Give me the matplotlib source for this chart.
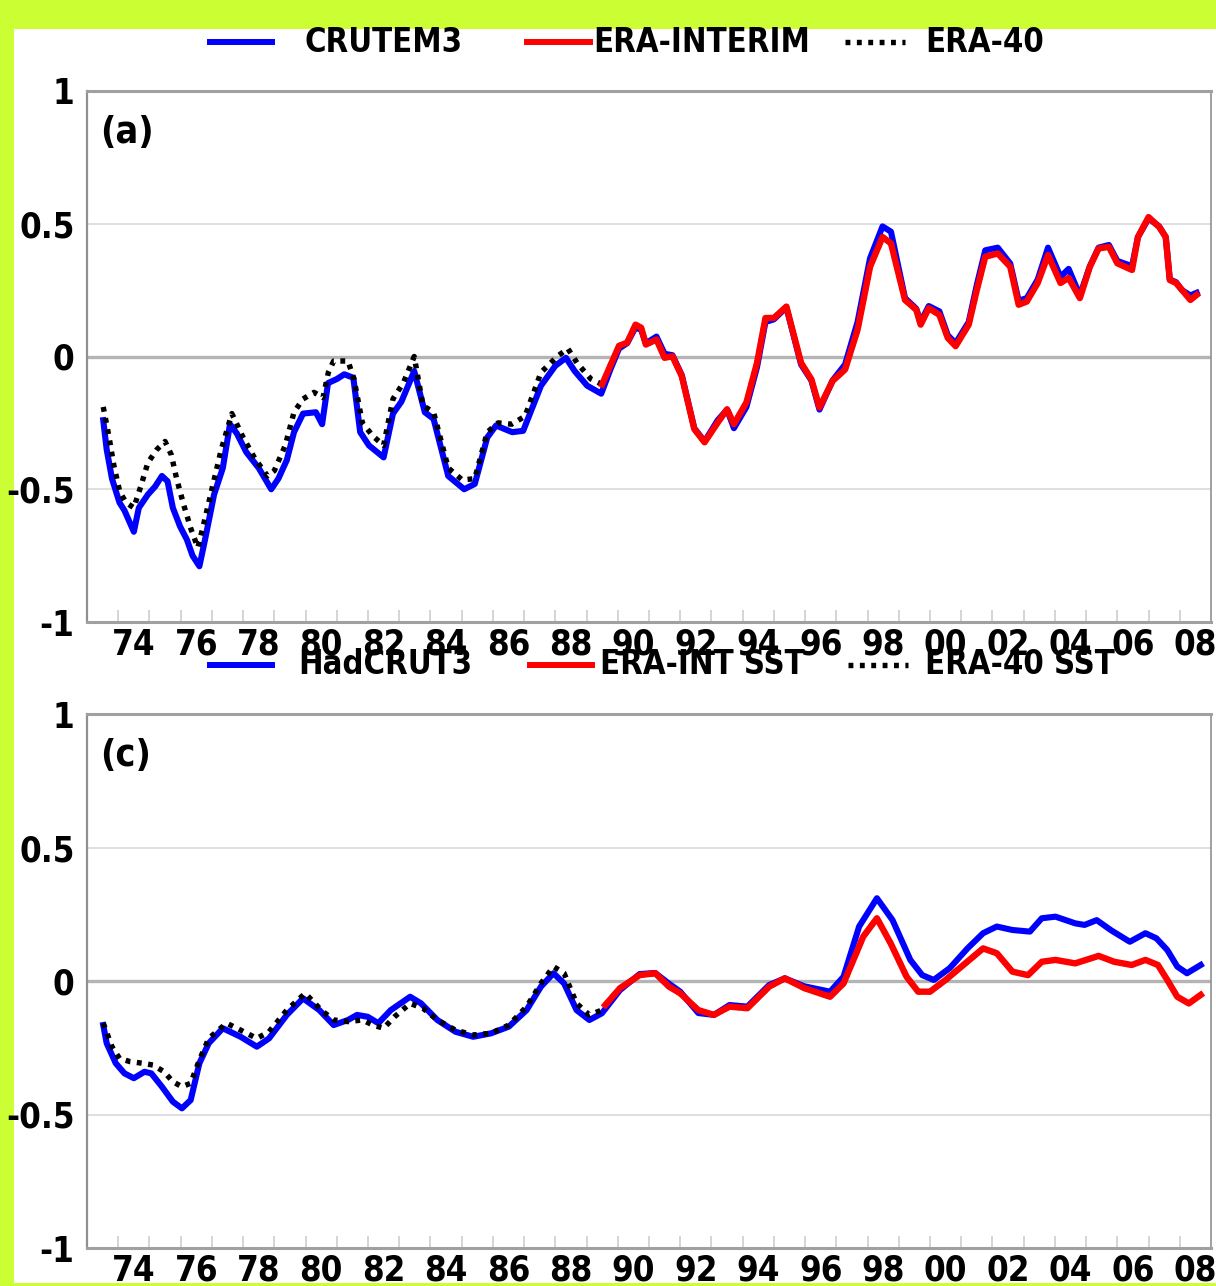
import numpy as np
import matplotlib
matplotlib.use("Agg")
import matplotlib.pyplot as plt
from matplotlib import font_manager
from matplotlib.lines import Line2D
from matplotlib.patches import Rectangle

# narrow bold face if there is one, else condensed DejaVu
_names = {f.name for f in font_manager.fontManager.ttflist}
if 'Liberation Sans Narrow' in _names:
    FONT = dict(family='Liberation Sans Narrow', weight='bold')
else:
    FONT = dict(family='DejaVu Sans', stretch='condensed', weight='bold')
plt.rcParams['font.family'] = FONT['family']
plt.rcParams['font.stretch'] = FONT.get('stretch', 'normal')
plt.rcParams['font.weight'] = 'bold'

# ---- panel (a): land surface air temperature anomalies, 12-month running means ----
crutem_yr = [1973.52, 1973.63, 1973.8, 1974.04, 1974.2, 1974.5, 1974.66, 1974.95, 1975.18, 1975.4,
             1975.58, 1975.75, 1975.98, 1976.2, 1976.38, 1976.6, 1976.78, 1977.07, 1977.35, 1977.58,
             1977.8, 1978.1, 1978.5, 1978.9, 1979.13, 1979.4, 1979.63, 1979.92, 1980.33, 1980.53,
             1980.72, 1981.0, 1981.24, 1981.53, 1981.75, 1982.03, 1982.5, 1982.8, 1983.07, 1983.48,
             1983.82, 1984.1, 1984.57, 1985.08, 1985.42, 1985.82, 1986.1, 1986.62, 1986.97, 1987.54,
             1988.0, 1988.34, 1988.62, 1989.02, 1989.47, 1989.76, 1990.04, 1990.3, 1990.57, 1990.75,
             1990.9, 1991.24, 1991.5, 1991.75, 1992.05, 1992.45, 1992.78, 1993.2, 1993.5, 1993.72,
             1994.12, 1994.46, 1994.73, 1995.0, 1995.4, 1995.87, 1996.2, 1996.46, 1996.88, 1997.28,
             1997.68, 1998.08, 1998.48, 1998.75, 1999.2, 1999.56, 1999.7, 1999.96, 2000.3, 2000.57,
             2000.82, 2001.24, 2001.5, 2001.77, 2002.17, 2002.57, 2002.84, 2003.1, 2003.45, 2003.78,
             2004.18, 2004.44, 2004.8, 2005.12, 2005.4, 2005.73, 2006.0, 2006.47, 2006.66, 2007.0,
             2007.34, 2007.55, 2007.68, 2007.88, 2008.07, 2008.34, 2008.54]
crutem = [-0.24, -0.35, -0.46, -0.55, -0.58, -0.66, -0.57, -0.52, -0.49, -0.45,
          -0.47, -0.57, -0.64, -0.69, -0.75, -0.79, -0.69, -0.52, -0.42, -0.255,
          -0.29, -0.36, -0.42, -0.50, -0.46, -0.39, -0.285, -0.215, -0.21, -0.255,
          -0.10, -0.085, -0.067, -0.08, -0.285, -0.335, -0.38, -0.215, -0.17, -0.055,
          -0.21, -0.235, -0.45, -0.50, -0.48, -0.305, -0.26, -0.285, -0.28, -0.11,
          -0.035, -0.005, -0.055, -0.11, -0.14, -0.05, 0.03, 0.05, 0.11, 0.10,
          0.05, 0.075, 0.01, 0.005, -0.07, -0.27, -0.32, -0.24, -0.20, -0.27,
          -0.19, -0.04, 0.13, 0.14, 0.185, -0.03, -0.09, -0.20, -0.09, -0.03,
          0.13, 0.37, 0.49, 0.47, 0.22, 0.18, 0.13, 0.19, 0.17, 0.08,
          0.05, 0.13, 0.27, 0.40, 0.41, 0.35, 0.21, 0.22, 0.29, 0.41,
          0.30, 0.33, 0.23, 0.34, 0.41, 0.42, 0.36, 0.34, 0.45, 0.52,
          0.49, 0.45, 0.29, 0.28, 0.25, 0.23, 0.24]

erai_yr = [1989.5, 1989.76, 1990.04, 1990.3, 1990.57, 1990.75, 1990.9, 1991.24, 1991.5, 1991.75,
           1992.05, 1992.45, 1992.78, 1993.2, 1993.5, 1993.72, 1994.12, 1994.46, 1994.73, 1995.0,
           1995.4, 1995.87, 1996.2, 1996.46, 1996.88, 1997.28, 1997.68, 1998.08, 1998.48, 1998.75,
           1999.2, 1999.56, 1999.7, 1999.96, 2000.3, 2000.57, 2000.82, 2001.24, 2001.5, 2001.77,
           2002.17, 2002.57, 2002.84, 2003.1, 2003.45, 2003.78, 2004.18, 2004.44, 2004.8, 2005.12,
           2005.4, 2005.73, 2006.0, 2006.47, 2006.66, 2007.0, 2007.34, 2007.55, 2007.68, 2007.88,
           2008.07, 2008.34, 2008.54]
erai = [-0.105, -0.035, 0.04, 0.052, 0.12, 0.108, 0.045, 0.064, -0.005, 0.001,
        -0.074, -0.273, -0.323, -0.249, -0.199, -0.255, -0.173, -0.024, 0.145, 0.145,
        0.188, -0.024, -0.086, -0.192, -0.092, -0.049, 0.101, 0.338, 0.45, 0.426,
        0.213, 0.176, 0.12, 0.182, 0.157, 0.07, 0.039, 0.12, 0.251, 0.376,
        0.388, 0.338, 0.195, 0.207, 0.277, 0.382, 0.277, 0.296, 0.22, 0.338,
        0.407, 0.413, 0.351, 0.326, 0.45, 0.525, 0.488, 0.45, 0.288, 0.277,
        0.251, 0.213, 0.232]

era40_yr = [1973.52, 1973.7, 1973.86, 1974.05, 1974.25, 1974.5, 1974.72, 1974.95, 1975.24, 1975.5,
            1975.7, 1975.87, 1976.1, 1976.33, 1976.55, 1976.72, 1977.0, 1977.3, 1977.64, 1977.98,
            1978.38, 1978.78, 1979.0, 1979.35, 1979.63, 1979.92, 1980.27, 1980.56, 1980.73, 1980.9,
            1981.36, 1981.55, 1981.82, 1982.16, 1982.5, 1982.8, 1983.13, 1983.48, 1983.76, 1984.1,
            1984.57, 1985.02, 1985.42, 1985.82, 1986.17, 1986.6, 1987.03, 1987.54, 1988.06, 1988.4,
            1988.7, 1989.14, 1989.5, 1989.76, 1990.04, 1990.3, 1990.57, 1990.75, 1990.9, 1991.24,
            1991.5, 1991.75, 1992.05, 1992.45, 1992.78, 1993.2, 1993.5, 1993.72, 1994.12, 1994.46,
            1994.73, 1995.0, 1995.4, 1995.87, 1996.2, 1996.46, 1996.88, 1997.28, 1997.68, 1998.08,
            1998.48, 1998.75, 1999.2, 1999.56, 1999.7, 1999.96, 2000.3, 2000.57, 2000.82, 2001.24,
            2001.5, 2001.77, 2002.17]
era40 = [-0.19, -0.30, -0.41, -0.51, -0.55, -0.57, -0.49, -0.40, -0.35, -0.32,
         -0.37, -0.46, -0.56, -0.65, -0.72, -0.64, -0.50, -0.35, -0.215, -0.30,
         -0.385, -0.45, -0.43, -0.335, -0.21, -0.16, -0.135, -0.155, -0.06, -0.017,
         -0.017, -0.085, -0.25, -0.30, -0.335, -0.16, -0.10, 0.0, -0.185, -0.21,
         -0.42, -0.465, -0.46, -0.285, -0.25, -0.255, -0.225, -0.06, 0.0, 0.03,
         -0.025, -0.085, -0.105, -0.035, 0.04, 0.052, 0.12, 0.108, 0.045, 0.064,
         -0.005, 0.001, -0.074, -0.273, -0.323, -0.249, -0.199, -0.255, -0.173, -0.024,
         0.145, 0.145, 0.188, -0.024, -0.086, -0.192, -0.092, -0.049, 0.101, 0.338,
         0.45, 0.426, 0.213, 0.176, 0.12, 0.182, 0.157, 0.07, 0.039, 0.12,
         0.251, 0.376, 0.388]

# ---- panel (c): global surface temperature with SST, 12-month running means ----
hadcrut_yr = [1973.52, 1973.63, 1973.92, 1974.2, 1974.5, 1974.84, 1975.06, 1975.4, 1975.75, 1976.04,
              1976.32, 1976.6, 1976.9, 1977.35, 1977.92, 1978.44, 1978.83, 1979.4, 1979.92, 1980.44,
              1980.9, 1981.36, 1981.65, 1981.99, 1982.33, 1982.73, 1983.35, 1983.7, 1984.22, 1984.8,
              1985.37, 1985.94, 1986.51, 1987.08, 1987.54, 1987.94, 1988.28, 1988.68, 1989.09, 1989.49,
              1990.07, 1990.7, 1991.2, 1991.64, 1992.0, 1992.58, 1993.08, 1993.58, 1994.15, 1994.85,
              1995.35, 1995.98, 1996.8, 1997.23, 1997.73, 1998.3, 1998.8, 1999.37, 1999.75, 2000.12,
              2000.63, 2001.2, 2001.7, 2002.14, 2002.64, 2003.2, 2003.58, 2004.02, 2004.65, 2004.95,
              2005.34, 2005.8, 2006.4, 2006.9, 2007.25, 2007.6, 2007.92, 2008.23, 2008.67]
hadcrut = [-0.165, -0.233, -0.308, -0.346, -0.364, -0.34, -0.346, -0.396, -0.452, -0.477,
           -0.446, -0.308, -0.233, -0.177, -0.209, -0.246, -0.215, -0.127, -0.065, -0.109,
           -0.165, -0.146, -0.127, -0.134, -0.158, -0.109, -0.059, -0.084, -0.146, -0.19,
           -0.209, -0.196, -0.171, -0.109, -0.021, 0.029, -0.009, -0.109, -0.146, -0.121,
           -0.034, 0.026, 0.03, -0.01, -0.04, -0.12, -0.127, -0.09, -0.096, -0.015,
           0.01, -0.02, -0.04, 0.016, 0.204, 0.31, 0.228, 0.079, 0.022, 0.004,
           0.048, 0.122, 0.179, 0.204, 0.191, 0.185, 0.235, 0.241, 0.216, 0.21,
           0.228, 0.19, 0.147, 0.179, 0.16, 0.116, 0.054, 0.029, 0.06]

eraisst_yr = [1989.6, 1990.07, 1990.7, 1991.2, 1991.64, 1992.0, 1992.58, 1993.08, 1993.58, 1994.15,
              1994.85, 1995.35, 1995.98, 1996.8, 1997.23, 1997.86, 1998.3, 1998.74, 1999.25, 1999.62,
              2000.0, 2000.5, 2001.13, 2001.7, 2002.14, 2002.64, 2003.14, 2003.58, 2004.02, 2004.65,
              2005.4, 2005.9, 2006.46, 2006.9, 2007.3, 2007.6, 2007.92, 2008.29, 2008.67]
eraisst = [-0.09, -0.027, 0.022, 0.029, -0.021, -0.046, -0.109, -0.127, -0.096, -0.102,
           -0.021, 0.01, -0.027, -0.059, -0.009, 0.166, 0.235, 0.141, 0.016, -0.04,
           -0.04, 0.004, 0.066, 0.122, 0.104, 0.035, 0.022, 0.072, 0.079, 0.066,
           0.094, 0.072, 0.06, 0.079, 0.06, 0.004, -0.059, -0.084, -0.052]

era40sst_yr = [1973.52, 1973.8, 1974.04, 1974.38, 1974.78, 1975.12, 1975.47, 1975.75, 1976.04, 1976.32,
               1976.6, 1976.9, 1977.47, 1977.92, 1978.44, 1978.83, 1979.4, 1979.99, 1980.5, 1980.9,
               1981.36, 1981.82, 1982.16, 1982.5, 1982.85, 1983.35, 1983.76, 1984.22, 1984.8, 1985.37,
               1985.94, 1986.51, 1987.08, 1987.54, 1987.94, 1988.28, 1988.68, 1989.09, 1989.49, 1989.6,
               1990.07, 1990.7, 1991.2, 1991.64, 1992.0, 1992.58, 1993.08, 1993.58, 1994.15, 1994.85,
               1995.35, 1995.98, 1996.8, 1997.23, 1997.86, 1998.3, 1998.74, 1999.25, 1999.62, 2000.0,
               2000.5, 2001.13, 2001.7, 2002.14]
era40sst = [-0.158, -0.246, -0.29, -0.302, -0.308, -0.315, -0.34, -0.377, -0.396, -0.383,
            -0.296, -0.215, -0.158, -0.184, -0.215, -0.19, -0.109, -0.046, -0.109, -0.146,
            -0.152, -0.146, -0.165, -0.177, -0.134, -0.084, -0.102, -0.146, -0.184, -0.202,
            -0.196, -0.165, -0.096, -0.009, 0.054, 0.029, -0.084, -0.127, -0.109, -0.09,
            -0.027, 0.022, 0.029, -0.021, -0.046, -0.109, -0.127, -0.096, -0.102, -0.021,
            0.01, -0.027, -0.059, -0.009, 0.166, 0.235, 0.141, 0.016, -0.04, -0.04,
            0.004, 0.066, 0.122, 0.104]

panels = [
    dict(label='(a)', names=['CRUTEM3', 'ERA-INTERIM', 'ERA-40'],
         blue=(crutem_yr, crutem), red=(erai_yr, erai), dot=(era40_yr, era40)),
    dict(label='(c)', names=['HadCRUT3', 'ERA-INT SST', 'ERA-40 SST'],
         blue=(hadcrut_yr, hadcrut), red=(eraisst_yr, eraisst), dot=(era40sst_yr, era40sst)),
]

W, H = 1216, 1286
fig = plt.figure(figsize=(W / 100, H / 100), dpi=100, facecolor='#ccff33')
fig.patches.append(Rectangle((14 / W, 3 / H), 1, (1283 - 29) / H, transform=fig.transFigure,
                             facecolor='white', edgecolor='none', zorder=-5))

FS = 25        # tick labels
FS_LEG = 23.5  # legend text
BLUE, RED = '#0000ff', '#ff0000'
dot_style = dict(color='black', lw=3.9, linestyle=(0, (0.9, 1.2)), dash_capstyle='butt')

axes_px = [(91, 622), (714, 1248)]                    # top / bottom of each plot area
legend_y = [42, 665]
legend_px = [[(210, 272, 305), (527, 590, 593), (845, 905, 925)],
             [(210, 272, 298), (530, 592, 600), (848, 908, 925)]]

for k, p in enumerate(panels):
    top, bot = axes_px[k]
    ax = fig.add_axes([87 / W, 1 - bot / H, (1211 - 87) / W, (bot - top) / H], zorder=1)
    ax.set_facecolor('white')
    ax.set_xlim(1973, 2009)
    ax.set_ylim(-1, 1)

    # reference lines
    ax.axhline(0, color='#b4b4b4', lw=2.4, zorder=1)
    for g in (0.5, -0.5):
        ax.axhline(g, color='#dcdcdc', lw=1.3, zorder=1)

    ax.plot(*p['blue'], color=BLUE, lw=4.4, zorder=3, solid_joinstyle='round')
    ax.plot(*p['dot'], zorder=4, **dot_style)
    ax.plot(*p['red'], color=RED, lw=4.6, zorder=5, solid_joinstyle='round')

    ax.text(13 / (1211 - 87), 1 - 42 / (bot - top), p['label'], transform=ax.transAxes,
            fontsize=FS + 2, ha='left', va='center')

    # axes frame
    for s in ('top', 'bottom'):
        ax.spines[s].set_color('#a0a0a0')
        ax.spines[s].set_linewidth(2.2)
    ax.spines['left'].set_color('#909090')
    ax.spines['left'].set_linewidth(1.6)
    ax.spines['right'].set_color('#909090')
    ax.spines['right'].set_linewidth(1.2)

    ax.set_yticks([-1, -0.5, 0, 0.5, 1])
    ax.set_yticklabels(['-1', '-0.5', '0', '0.5', '1'])
    ax.tick_params(axis='y', length=0, pad=9, labelsize=FS)

    years = np.arange(1974, 2009, 2)
    ax.set_xticks(years + 0.5)
    ax.set_xticklabels(['%02d' % (y % 100) for y in years])
    ax.set_xticks(np.arange(1974, 2009), minor=True)
    ax.tick_params(axis='x', which='major', length=0, pad=4, labelsize=FS)
    ax.tick_params(axis='x', which='minor', direction='in', length=9, width=1.3, color='#d2d2d2')

    # legend row above the panel
    ly = 1 - legend_y[k] / H
    styles = [dict(color=BLUE, lw=4.3), dict(color=RED, lw=4.3), dot_style]
    for (x0, x1, tx), name, st in zip(legend_px[k], p['names'], styles):
        fig.add_artist(Line2D([x0 / W, x1 / W], [ly, ly], transform=fig.transFigure, **st))
        fig.text(tx / W, ly, name, fontsize=FS_LEG, ha='left', va='center', zorder=6)

fig.savefig('out.png', dpi=100, facecolor=fig.get_facecolor())
